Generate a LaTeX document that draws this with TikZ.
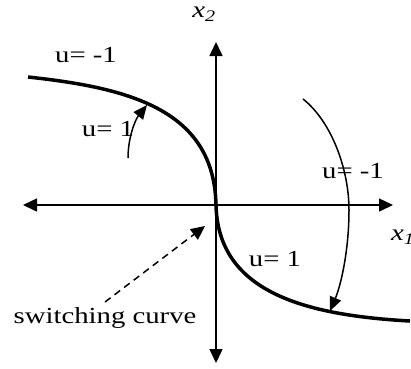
\documentclass[tikz,border=0pt]{standalone}
\usepackage{fontspec}
\setmainfont[FakeStretch=1.25]{Liberation Serif}
\usetikzlibrary{arrows.meta}
\begin{document}
\begin{tikzpicture}[x=1pt,y=-1pt,
  axis/.style={line width=1.5pt,{Triangle[length=14pt,width=13pt]}-{Triangle[length=14pt,width=13pt]}},
  traj/.style={line width=1.5pt,-{Triangle[length=14pt,width=12pt]}},
  switch/.style={line width=3.5pt},
  lbl/.style={font=\fontsize{23}{25}\selectfont,inner sep=0pt}]
\useasboundingbox (0,0) rectangle (411,368);
% coordinates
\coordinate (O) at (216,205);
\coordinate (top) at (216,42);
\coordinate (bot) at (216,363);
\coordinate (left) at (23,205);
\coordinate (right) at (393,205);
\coordinate (s1) at (28,77);
\coordinate (s2) at (410,321);
% axes
\draw[axis] (bot) -- (top);
\draw[axis] (left) -- (right);
% switching curve
\draw[switch] (s1) .. controls (130,88) and (214,110) .. (O)
  .. controls (218,290) and (300,315) .. (s2);
% trajectories
\coordinate (a1) at (128,158);
\coordinate (a1e) at (147,105);
\draw[traj] (a1) .. controls (128,138) and (135,120) .. (a1e);
\coordinate (b1) at (303,99);
\coordinate (b2) at (349,210);
\coordinate (b3) at (330,311);
\draw[line width=1.5pt] (b1) .. controls (332,122) and (349,170) .. (b2);
\draw[traj] (b2) .. controls (349,250) and (341,285) .. (b3);
% dashed pointer
\node[lbl] (sc) at (105,318) {switching curve};
\coordinate (sct) at (205,226);
\draw[line width=1.5pt,dash pattern=on 7pt off 5pt,-{Triangle[length=14pt,width=13pt]}] (105,302) -- (sct);
% labels
\node[lbl] (l1) at (86,55) {u= -1};
\node[lbl] (l2) at (108,129) {u= 1};
\node[lbl] (l3) at (353,171) {u= -1};
\node[lbl] (l4) at (275,259) {u= 1};
\node[lbl] (x2) at (204,14) {\textit{x\textsubscript{2}}};
\node[lbl,anchor=west] (x1) at (391,237) {\textit{x\textsubscript{1}}};
\end{tikzpicture}
\end{document}
